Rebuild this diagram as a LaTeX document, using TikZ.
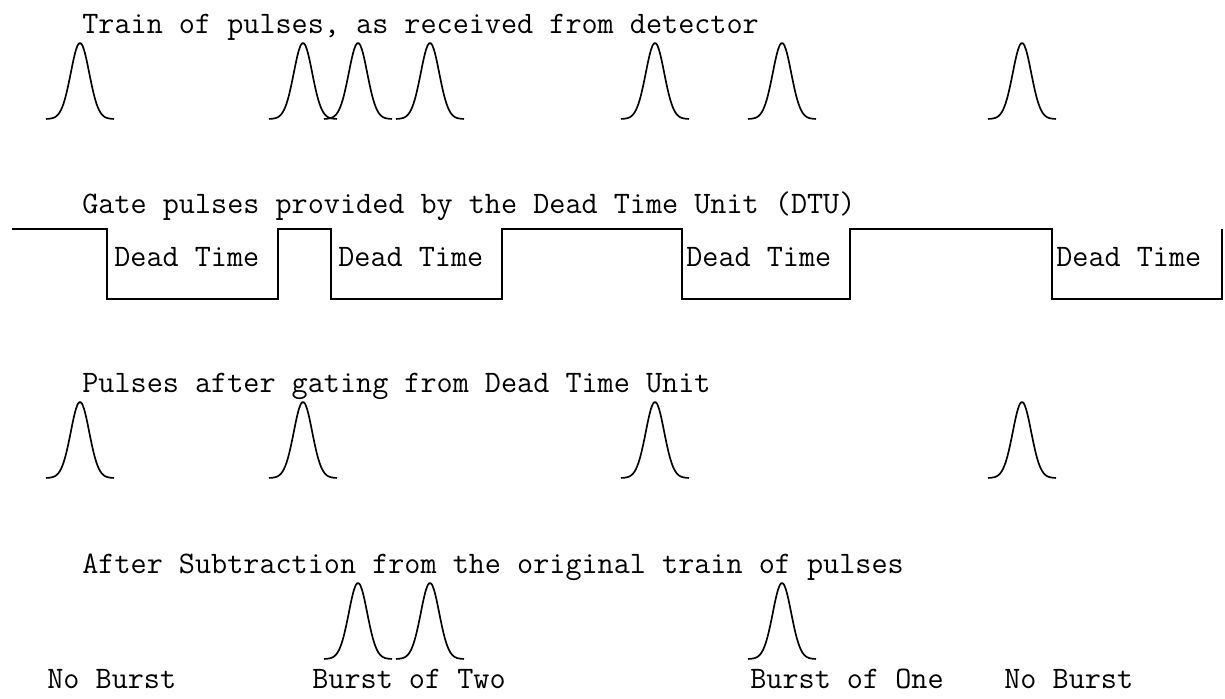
\documentclass[tikz,border=0pt]{standalone}
\usepackage{fontspec}
\usepackage{tikz}

\begin{document}
\begin{tikzpicture}[
    x=0.02cm, y=-0.02cm,
    every node/.style={font=\ttfamily\fontsize{17.8}{20}\selectfont, anchor=base west, inner sep=0pt},
    wave/.style={line width=0.95pt, black, line join=round},
    gate/.style={line width=0.85pt, black}
]
   \useasboundingbox (0,0) rectangle (1225,698);

   % Titles of the four rows
   \node (train)  at (82,33)  {Train of pulses, as received from detector};
   \node (gates)  at (82,213) {Gate pulses provided by the Dead Time Unit (DTU)};
   \node (gated)  at (82,392) {Pulses after gating from Dead Time Unit};
   \node (subtr)  at (82,573) {After Subtraction from the original train of pulses};

   % Pulses from detector
   \foreach \px in {80,303,358,430,655,782,1022}
      \draw[wave, shift={(\px,119)}] plot[domain=-34:34, samples=60, smooth] (\x, {-76*exp(-\x*\x/170)});

   % Gate signal of the DTU
   \draw[gate] (12,229) -- (107,229) -- (107,299) -- (278,299) -- (278,229)
      -- (331,229) -- (331,299) -- (502,299) -- (502,229)
      -- (682,229) -- (682,299) -- (850,299) -- (850,229)
      -- (1052,229) -- (1052,299) -- (1222,299) -- (1222,229);

   \node (dt1) at (114,266)  {Dead Time};
   \node (dt2) at (338,266)  {Dead Time};
   \node (dt3) at (686,266)  {Dead Time};
   \node (dt4) at (1056,266) {Dead Time};

   % Pulses after gating
   \foreach \px in {80,303,655,1022}
      \draw[wave, shift={(\px,478)}] plot[domain=-34:34, samples=60, smooth] (\x, {-76*exp(-\x*\x/170)});

   % Remaining pulses (bursts)
   \foreach \px in {358,430,782}
      \draw[wave, shift={(\px,659)}] plot[domain=-34:34, samples=60, smooth] (\x, {-76*exp(-\x*\x/170)});

   \node (none1) at (47,688)   {No Burst};
   \node (two)   at (312,688)  {Burst of Two};
   \node (one)   at (750,688)  {Burst of One};
   \node (none2) at (1004,688) {No Burst};

\end{tikzpicture}
\end{document}
